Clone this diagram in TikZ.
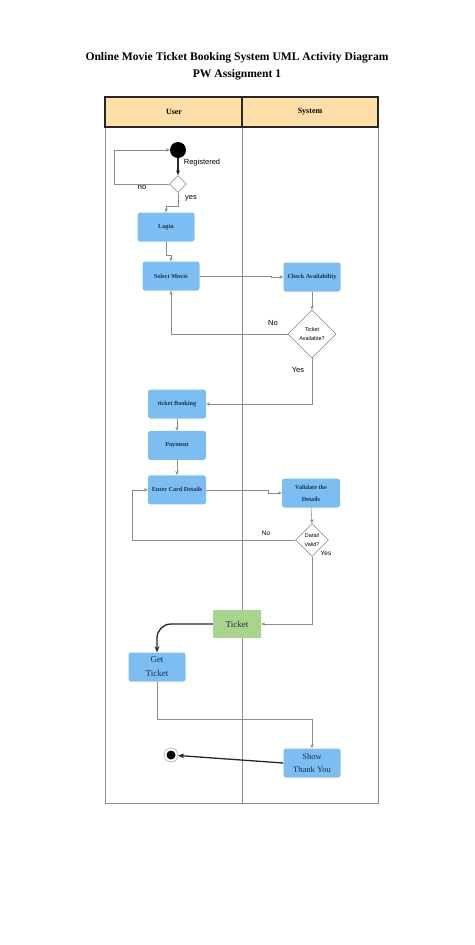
\documentclass[tikz,border=0pt]{standalone}
\usepackage{fontspec}
\setmainfont{Liberation Serif}
\setsansfont{Liberation Sans}
\usetikzlibrary{shapes.geometric, arrows.meta, positioning}

\definecolor{actblue}{HTML}{7DBEF2}
\definecolor{lanehead}{HTML}{FFDFA8}
\definecolor{ticketgreen}{HTML}{A9D48C}
\definecolor{lanegray}{HTML}{8C8C8C}
\definecolor{acttext}{HTML}{1E2F4A}

\begin{document}
\begin{tikzpicture}[
    x=1pt, y=-1pt,
    box/.style={rectangle, fill=actblue, rounded corners=2.5pt, minimum width=57pt, minimum height=29pt, align=center, inner sep=1pt, text=acttext, font=\fontsize{6.2}{9}\selectfont\bfseries},
    bigbox/.style={box, font=\fontsize{9}{14}\selectfont},
    decision/.style={diamond, draw=black!65, fill=white, inner sep=0pt, align=center, font=\sffamily\fontsize{5.5}{9}\selectfont},
    arrow/.style={-{Stealth[length=4pt,width=3.4pt]}, draw=lanegray, line width=0.6pt},
    boldarrow/.style={-{Stealth[length=6pt,width=5pt,open]}, draw=black!85, line width=1.3pt},
    lbl/.style={font=\sffamily\fontsize{7.5}{9}\selectfont, inner sep=0pt},
    lane/.style={draw=lanegray, line width=0.7pt},
    header/.style={draw=black!85, line width=1.2pt, fill=lanehead}
]
\useasboundingbox (0,0) rectangle (474,945);

% title
\node[font=\fontsize{11.6}{17}\selectfont\bfseries, align=center] (title) at (237,66)
    {Online Movie Ticket Booking System UML Activity Diagram\\PW Assignment 1};

% swimlanes
\draw[lane] (105,127) rectangle (378,803);
\draw[lane] (242,127) -- (242,803);
\draw[header] (105,97) rectangle (242,127);
\draw[header] (242,97) rectangle (378,127);
\node[font=\fontsize{8}{10}\selectfont\bfseries] (userlane) at (174,112) {User};
\node[font=\fontsize{8}{10}\selectfont\bfseries] (syslane) at (310,112) {System};

% user lane
\node[circle, fill=black, minimum size=16pt, inner sep=0pt] (init) at (178,150) {};
\node[decision, minimum width=17pt, minimum height=17pt] (reg) at (178,184) {};
\node[box] (login) at (166,227) {Login};
\node[box] (select) at (171,276) {Select Movie};
\node[box, minimum width=58pt] (booking) at (177,404) {ticket Booking};
\node[box, minimum width=58pt, below=12pt of booking] (payment) {Payment};
\node[box, minimum width=58pt, below=15pt of payment] (card) {Enter Card Details};
\node[bigbox] (get) at (157,667) {Get\\Ticket};
\node[circle, draw=lanegray, fill=white, minimum size=14pt, inner sep=0pt] (final) at (171,755) {};
\node[circle, fill=black, minimum size=9pt, inner sep=0pt] (finaldot) at (final) {};

% system lane
\node[box] (check) at (312,277) {Check Availability};
\node[decision, minimum width=48pt, minimum height=48pt] (avail) at (312,334) {Ticket\\Available?};
\node[box, minimum width=58pt, font=\fontsize{6.2}{12}\selectfont\bfseries] (validate) at (311,493) {Validate the\\Details};
\node[decision, minimum width=33pt, minimum height=33pt] (valid) at (312,540) {Datail\\Valid?};
\node[rectangle, fill=ticketgreen, minimum width=48pt, minimum height=28pt, font=\fontsize{9}{11}\selectfont, text=acttext] (ticket) at (237,624) {Ticket};
\node[bigbox, font=\fontsize{8.5}{13}\selectfont] (show) at (312,763) {Show\\Thank You};

% labels
\node[lbl] (lreg) at (202,163) {Registered};
\node[lbl] (lno) at (142,188) {no};
\node[lbl] (lyes) at (191,198) {yes};
\node[lbl] (lno2) at (273,323) {No};
\node[lbl] (lyes2) at (298,370) {Yes};
\node[lbl, font=\sffamily\fontsize{6.5}{8}\selectfont] (lno3) at (266,533) {No};
\node[lbl, font=\sffamily\fontsize{6.5}{8}\selectfont] (lyes3) at (326,553) {Yes};

% flow
\draw[-{Stealth[length=5pt,width=4pt]}, line width=1.2pt, draw=black!85] (init) -- (reg);
\draw[arrow] (reg.west) -- ++(-55,0) |- (init.west);
\draw[arrow] (reg.south) -- ++(0,14) -| (login.north);
\draw[arrow] (login.south) -- ++(0,14) -| (select.north);
\draw[arrow] (select.east) -- ++(72,0) |- (check.west);
\draw[arrow] (check.south) -- (avail.north);
\draw[arrow] (avail.west) -| (select.south);
\draw[arrow] (avail.south) |- (booking.east);
\draw[arrow] (booking) -- (payment);
\draw[arrow] (payment) -- (card);
\draw[arrow] (card.east) -- ++(62,0) |- (validate.west);
\draw[arrow] (validate.south) -- (valid.north);
\draw[arrow] (valid.west) -- ++(-163,0) |- (card.west);
\draw[arrow] (valid.south) |- (ticket.east);
\draw[boldarrow, rounded corners=14pt] (ticket.west) -| (get.north);
\draw[arrow] (get.south) -- ++(0,38) -| (show.north);
\draw[boldarrow] (show.west) -- (final);
\end{tikzpicture}
\end{document}
